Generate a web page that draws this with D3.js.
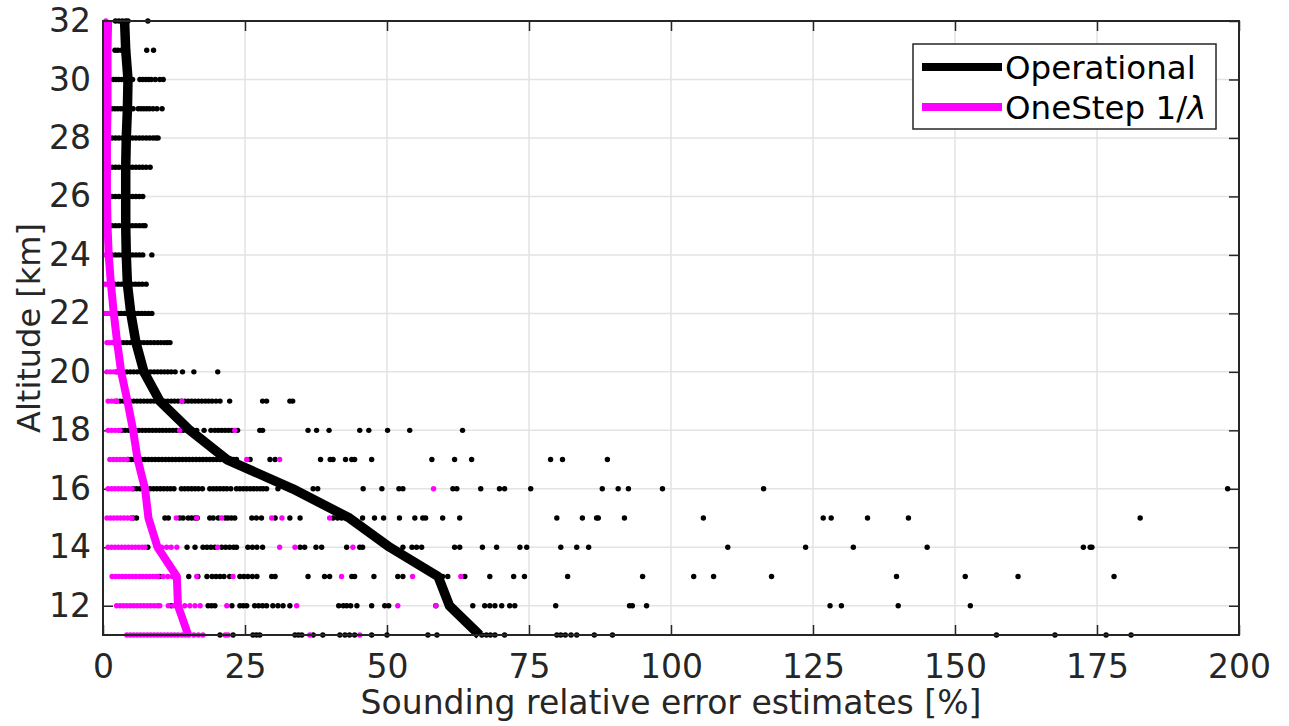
<!DOCTYPE html>
<html lang="en">
<head>
<meta charset="UTF-8">
<title>Sounding relative error estimates</title>
<script src="https://d3js.org/d3.v7.min.js"></script>
<style>
  body { margin: 0; background: #fff; }
  text { font-family: "DejaVu Sans", sans-serif; }
</style>
</head>
<body>
<svg id="chart"></svg>
<script>
// altitude levels [km], bottom to top
let altitudes = [11,12,13,14,15,16,17,18,19,20,21,22,23,24,25,26,27,28,29,30,31,32]

// mean relative error [%] per altitude
let operationalMean = [66.3,61.0,59.0,50.5,43.4,33.4,21.8,15.3,10.0,7.2,5.8,4.9,4.3,4.1,4.0,4.0,4.0,4.1,4.3,4.4,4.0,3.8]
let oneStepMean = [15.0,13.2,13.0,9.6,8.0,7.4,6.1,5.3,4.3,3.2,2.5,1.9,1.4,1.0,0.8,0.7,0.7,0.7,0.8,0.8,0.8,0.9]

// individual sounding errors [%], one list per altitude (same order as altitudes)
let operationalDots = [
  [20.6,22.9,26.4,27.0,27.6,33.8,34.4,35.0,37.0,38.7,41.7,42.6,43.4,44.3,47.3,50.0,57.2,58.8,66.7,67.5,68.2,69.0,70.7,79.9,80.6,81.4,82.4,83.4,86.5,89.7,157.3,167.6,176.6,181.0],
  [12.0,18.5,19.1,19.7,22.7,24.1,24.7,25.3,26.7,27.4,28.1,28.8,29.9,30.8,31.7,32.9,41.5,42.3,42.9,43.6,44.7,47.3,49.6,50.3,58.6,65.1,67.2,68.1,69.0,70.2,71.6,72.5,79.7,92.7,93.2,95.7,128.0,130.0,140.0,152.7],
  [10.0,15.1,16.7,18.3,19.2,19.9,20.6,21.3,22.3,24.1,24.8,25.5,26.3,27.1,29.7,30.3,36.1,39.0,39.9,43.8,44.3,47.7,51.9,52.8,59.8,60.7,63.7,68.1,72.3,74.2,81.8,95.0,104.0,107.5,117.7,139.7,151.8,161.1,178.0],
  [7.9,14.8,16.2,17.6,18.3,19.0,19.7,20.9,21.6,22.3,23.0,23.5,25.5,26.3,27.1,28.1,34.7,35.5,37.5,38.5,42.9,45.2,45.7,52.8,54.4,55.2,56.1,61.9,62.8,66.8,69.3,73.4,74.6,80.6,83.4,85.5,110.0,123.7,132.1,145.1,172.6,173.8,174.1],
  [5.3,5.9,10.9,11.5,13.5,14.1,15.0,15.6,16.2,16.6,18.8,19.4,20.3,21.5,22.0,22.6,23.2,26.2,27.0,27.9,30.3,32.9,34.7,40.5,41.3,42.0,42.9,45.7,47.8,49.4,52.2,54.9,56.3,56.8,59.8,62.8,79.9,84.4,86.9,87.2,91.8,105.7,126.8,128.2,134.6,141.8,182.6],
  [5.3,5.9,6.5,7.1,8.3,8.9,9.5,10.1,10.7,11.3,11.9,12.5,13.8,14.4,15.0,15.6,16.2,16.8,17.5,18.8,19.4,20.0,20.6,21.2,21.8,22.5,23.5,24.1,24.7,25.3,25.9,26.5,27.1,27.7,28.2,28.8,30.8,37.0,37.8,45.8,49.1,52.1,52.8,61.6,62.3,66.5,69.8,70.7,75.3,87.9,90.7,92.5,98.5,116.3,198.0],
  [4.4,5.0,5.6,6.2,6.8,7.4,8.0,8.6,9.2,9.8,10.4,11.0,11.6,12.2,12.8,13.4,14.0,14.6,15.2,15.8,16.4,17.0,17.6,18.2,18.8,19.4,20.0,20.6,21.2,21.8,22.4,23.0,23.5,25.9,29.4,30.3,38.3,40.0,40.5,42.7,43.8,44.3,47.3,57.9,61.9,64.9,78.8,80.9,88.8],
  [3.3,3.9,4.5,5.1,5.7,6.3,6.9,7.5,8.1,8.7,9.3,9.9,10.5,11.1,11.7,12.3,12.9,13.5,14.1,14.7,15.3,15.9,16.5,17.8,19.0,19.7,20.3,20.9,21.5,22.1,22.7,23.7,27.6,28.1,36.1,37.6,39.8,45.2,46.8,50.1,54.0,63.3],
  [2.4,3.0,3.6,4.2,4.8,5.4,6.0,6.6,7.2,7.8,8.4,9.0,9.6,10.2,10.8,11.4,12.0,12.6,13.2,13.8,14.4,15.0,15.6,16.2,16.8,17.4,18.0,18.6,19.2,19.9,20.6,22.3,28.1,28.8,32.9,33.4],
  [2.4,3.0,3.6,4.2,4.8,5.4,6.0,6.6,7.2,7.8,8.4,9.0,9.6,10.2,10.8,11.4,12.0,12.7,14.0,16.0,20.2],
  [1.8,2.4,3.0,3.6,4.2,4.8,5.4,6.0,6.6,7.2,7.8,8.4,9.0,9.6,10.2,10.8,11.3,11.8],
  [2.0,2.6,3.2,3.8,4.4,5.0,5.6,6.2,6.8,7.4,8.0,8.6],
  [1.5,2.1,2.7,3.3,3.9,4.5,5.1,5.7,6.3,6.9,7.6],
  [1.6,2.2,2.8,3.4,4.0,4.6,5.2,5.8,6.4,7.0,8.6],
  [1.6,2.2,2.8,3.4,4.0,4.6,5.2,5.8,6.4,7.0,7.4],
  [1.6,2.2,2.8,3.4,4.0,4.6,5.2,5.8,6.4,7.0],
  [1.6,2.2,2.8,3.4,4.0,4.6,5.2,5.8,6.4,7.0,7.6,8.3],
  [1.6,2.2,2.8,3.4,4.0,4.6,5.2,5.8,6.4,7.0,7.6,8.2,8.8,9.3,9.7],
  [1.6,2.1,2.6,3.1,3.6,4.1,4.6,5.3,6.2,6.7,7.2,7.7,8.2,8.8,9.5,10.4],
  [1.8,2.3,2.8,3.3,3.8,4.3,4.8,5.2,6.5,7.0,7.5,8.0,8.5,9.2,10.0,10.6],
  [2.1,2.6,3.2,3.8,4.3,7.7,8.9],
  [2.2,2.8,3.4,4.0,4.4,7.9]
]
let oneStepDots = [
  [4.2,4.8,5.4,6.0,6.6,7.2,7.8,8.4,9.0,9.6,10.2,10.8,11.4,12.0,12.6,13.2,13.9,14.5,15.1,16.0,16.8,17.6,21.5,22.0,36.4,45.2],
  [2.4,3.0,3.6,4.2,4.8,5.4,6.0,6.6,7.2,7.8,8.4,9.0,9.6,10.0,11.5,12.4,13.2,14.4,15.3,16.2,17.1,21.8,34.1,51.9,58.6],
  [1.6,2.2,2.8,3.4,4.0,4.6,5.2,5.8,6.4,7.0,7.6,8.2,8.8,9.4,9.7,10.6,11.4,12.2,13.0,16.5,22.9,42.0,54.5,63.0],
  [0.9,1.5,2.1,2.7,3.3,3.9,4.5,5.1,5.7,6.3,6.9,7.4,9.5,10.3,11.2,12.0,13.0,20.2,31.1,33.8,44.0],
  [0.7,1.3,1.9,2.5,3.1,3.7,4.3,4.9,5.1,12.9,16.5,20.9,29.7,31.5,39.9],
  [0.9,1.5,2.1,2.7,3.3,3.9,4.5,5.1,58.2],
  [1.2,1.8,2.4,3.0,3.6,4.2,25.3,31.1],
  [0.9,1.5,2.1,2.7,3.0,13.5,23.2],
  [0.9,1.5,2.0,2.4,13.9],
  [0.7,1.3,1.9,2.4],
  [0.7,1.2,1.8],
  [0.4,0.8,1.2],
  [0.3,0.7],
  [0.4,0.8],
  [0.5],[0.5],[0.5],[0.5],[0.5],[0.5],[0.5],[0.5]
]

let xTicks = [0,25,50,75,100,125,150,175,200]
let yTicks = [12,14,16,18,20,22,24,26,28,30,32]
let seriesNames = ["Operational", "OneStep 1/"]
let seriesColors = ["#000000", "#ff00ff"]

let width = 1289
let height = 726
let plotLeft = 103, plotRight = 1239, plotTop = 21, plotBottom = 635

let svg = d3.select("#chart").attr("width", width).attr("height", height)

let xScale = d3.scaleLinear().domain([0, 200]).range([plotLeft, plotRight])
let yScale = d3.scaleLinear().domain([11, 32]).range([plotBottom, plotTop])

// grid
svg.append("g").selectAll("line").data(xTicks.slice(1, -1)).enter().append("line")
   .attr("x1", d => xScale(d)).attr("x2", d => xScale(d))
   .attr("y1", plotTop).attr("y2", plotBottom)
   .attr("stroke", "#e3e3e3").attr("stroke-width", 1.5)
svg.append("g").selectAll("line").data(yTicks.slice(0, -1)).enter().append("line")
   .attr("y1", d => yScale(d)).attr("y2", d => yScale(d))
   .attr("x1", plotLeft).attr("x2", plotRight)
   .attr("stroke", "#e3e3e3").attr("stroke-width", 1.5)

// axes (ticks pointing inward, on all four sides)
let tickLen = 10
let styleAxis = (g) => {
  g.select(".domain").remove()
  g.selectAll(".tick line").attr("stroke", "#262626").attr("stroke-width", 1.5)
  g.selectAll(".tick text").attr("fill", "#262626").style("font-size", "33px")
}
svg.append("g").attr("transform", "translate(0," + plotBottom + ")")
   .call(d3.axisBottom(xScale).tickValues(xTicks).tickSize(-tickLen).tickPadding(20))
   .call(styleAxis)
svg.append("g").attr("transform", "translate(0," + plotTop + ")")
   .call(d3.axisTop(xScale).tickValues(xTicks).tickSize(-tickLen).tickFormat(""))
   .call(styleAxis)
svg.append("g").attr("transform", "translate(" + plotLeft + ",0)")
   .call(d3.axisLeft(yScale).tickValues(yTicks).tickSize(-tickLen).tickPadding(12))
   .call(styleAxis)
svg.append("g").attr("transform", "translate(" + plotRight + ",0)")
   .call(d3.axisRight(yScale).tickValues(yTicks).tickSize(-tickLen).tickFormat(""))
   .call(styleAxis)

// scatter of single soundings
let flatten = (lists) => {
  let out = []
  lists.forEach((vals, i) => vals.forEach(v => out.push({ alt: altitudes[i], v: v })))
  return out
}
svg.append("g").selectAll("circle").data(flatten(operationalDots)).enter().append("circle")
   .attr("cx", d => xScale(d.v)).attr("cy", d => yScale(d.alt)).attr("r", 2.7)
   .attr("fill", seriesColors[0])
svg.append("g").selectAll("circle").data(flatten(oneStepDots)).enter().append("circle")
   .attr("cx", d => xScale(d.v)).attr("cy", d => yScale(d.alt)).attr("r", 2.7)
   .attr("fill", seriesColors[1])

// mean profiles
let line = d3.line().x(d => xScale(d[0])).y(d => yScale(d[1]))
svg.append("path").datum(operationalMean.map((v, i) => [v, altitudes[i]]))
   .attr("d", line).attr("fill", "none").attr("stroke", seriesColors[0])
   .attr("stroke-width", 9.5).attr("stroke-linejoin", "round")
svg.append("path").datum(oneStepMean.map((v, i) => [v, altitudes[i]]))
   .attr("d", line).attr("fill", "none").attr("stroke", seriesColors[1])
   .attr("stroke-width", 8).attr("stroke-linejoin", "round")

// box
svg.append("rect").attr("x", plotLeft).attr("y", plotTop)
   .attr("width", plotRight - plotLeft).attr("height", plotBottom - plotTop)
   .attr("fill", "none").attr("stroke", "#262626").attr("stroke-width", 2)

// axis labels
svg.append("text").attr("x", (plotLeft + plotRight) / 2).attr("y", 714).attr("text-anchor", "middle")
   .attr("fill", "#262626").style("font-size", "33px").text("Sounding relative error estimates [%]")
svg.append("text").attr("transform", "translate(40," + ((plotTop + plotBottom) / 2) + ") rotate(-90)")
   .attr("text-anchor", "middle").attr("fill", "#262626").style("font-size", "32px").text("Altitude [km]")

// legend
let legend = svg.append("g")
legend.append("rect").attr("x", 913).attr("y", 44).attr("width", 303).attr("height", 85)
   .attr("fill", "#fff").attr("stroke", "#262626").attr("stroke-width", 1.5)
seriesNames.forEach((name, i) => {
  let y = 67 + i * 40
  legend.append("line").attr("x1", 922).attr("x2", 1002).attr("y1", y).attr("y2", y)
     .attr("stroke", seriesColors[i]).attr("stroke-width", 8)
  let t = legend.append("text").attr("x", 1005).attr("y", y + 12)
     .attr("fill", "#000").style("font-size", "32.5px").text(name)
  if (i === 1) t.append("tspan").style("font-style", "italic").text("λ")
})
</script>
</body>
</html>
